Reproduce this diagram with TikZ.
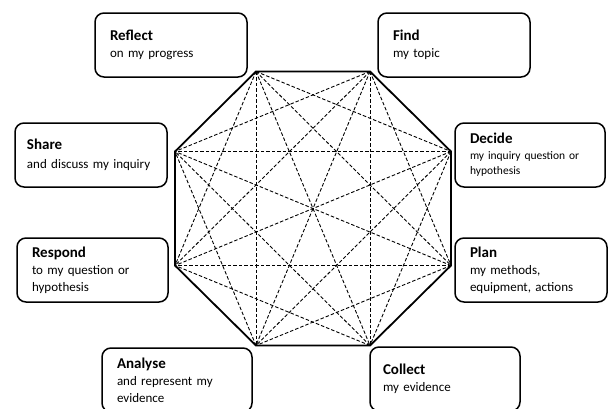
\documentclass[tikz,border=0pt]{standalone}
\usepackage{fontspec}
\setmainfont{Carlito}
\begin{document}
\begin{tikzpicture}[x=1pt,y=-1pt,
  box/.style={draw, line width=1.5pt, rounded corners=9pt, align=left,
    inner xsep=15pt, inner ysep=0pt, minimum height=64pt,
    font=\fontsize{13}{16.5}\selectfont},
  smallbox/.style={box, font=\fontsize{11.5}{15}\selectfont},
  side/.style={line width=1.8pt, line join=miter},
  diag/.style={line width=0.9pt, dash pattern=on 3.5pt off 2pt}]
\useasboundingbox (0,0) rectangle (608,408);
\newcommand{\boxtitle}[1]{{\fontsize{15}{18}\selectfont\bfseries #1}}
% octagon vertices
\coordinate (v1) at (256,71.5);
\coordinate (v2) at (370,71.5);
\coordinate (v3) at (451,151.5);
\coordinate (v4) at (451,265.5);
\coordinate (v5) at (370,345.5);
\coordinate (v6) at (256,345.5);
\coordinate (v7) at (175,265.5);
\coordinate (v8) at (175,151.5);
\foreach \a/\b in {1/3,1/4,1/5,1/6,1/7,2/4,2/5,2/6,2/7,2/8,3/5,3/6,3/7,3/8,4/6,4/7,4/8,5/7,5/8,6/8}
  \draw[diag] (v\a) -- (v\b);
\draw[side] (v1) -- (v2) -- (v3) -- (v4) -- (v5) -- (v6) -- (v7) -- (v8) -- cycle;
% boxes
\node[box, text width=122pt] (reflect) at (171,45) {\boxtitle{Reflect}\\[1pt]on my progress};
\node[box, text width=122pt] (find) at (454,45) {\boxtitle{Find}\\[1pt]my topic};
\node[box, inner xsep=12pt, text width=128pt] (share) at (91,155) {\boxtitle{Share}\\[2pt]and discuss my inquiry};
\node[smallbox, text width=120pt] (decide) at (530,155) {\boxtitle{Decide}\\[1pt]my inquiry question or\\hypothesis};
\node[box, text width=121pt] (respond) at (92.5,270) {\boxtitle{Respond}\\[1pt]to my question or\\hypothesis};
\node[box, text width=122pt] (plan) at (531,270) {\boxtitle{Plan}\\[1pt]my methods,\\equipment, actions};
\node[box, text width=120pt] (analyse) at (177,380) {\boxtitle{Analyse}\\[1pt]and represent my\\evidence};
\node[box, inner xsep=13pt, text width=124pt] (collect) at (445,379) {\boxtitle{Collect}\\[1pt]my evidence};
\end{tikzpicture}
\end{document}
